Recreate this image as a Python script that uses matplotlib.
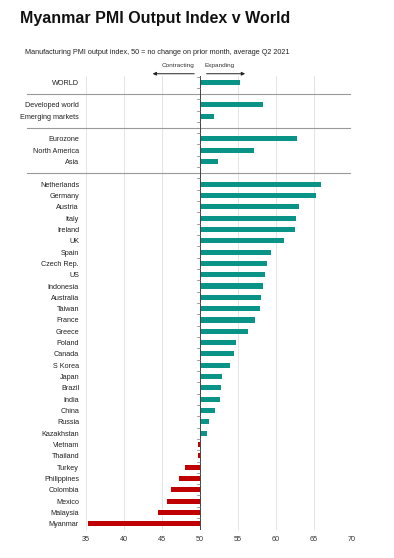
import matplotlib
matplotlib.use("Agg")
import matplotlib.pyplot as plt
import matplotlib.transforms as mtransforms

plt.rcParams['font.family'] = ['Liberation Sans', 'DejaVu Sans']

groups = [
    ["WORLD"],
    ["Developed world", "Emerging markets"],
    ["Eurozone", "North America", "Asia"],
    ["Netherlands", "Germany", "Austria", "Italy", "Ireland", "UK", "Spain",
     "Czech Rep.", "US", "Indonesia", "Australia", "Taiwan", "France", "Greece",
     "Poland", "Canada", "S Korea", "Japan", "Brazil", "India", "China", "Russia",
     "Kazakhstan", "Vietnam", "Thailand", "Turkey", "Philippines", "Colombia",
     "Mexico", "Malaysia", "Myanmar"],
]
group_values = [
    [55.2],
    [58.3, 51.9],
    [62.7, 57.1, 52.4],
    [65.9, 65.2, 63.0, 62.6, 62.5, 61.1, 59.4, 58.8, 58.5, 58.3, 58.0, 57.9,
     57.3, 56.3, 54.7, 54.5, 54.0, 52.9, 52.8, 52.6, 52.0, 51.2, 50.9, 49.7,
     49.7, 48.0, 47.3, 46.2, 45.7, 44.5, 35.2],
]
x_ticks = [35, 40, 45, 50, 55, 60, 65, 70]
baseline = 50

TEAL = "#0a9488"
RED = "#c00000"

fig = plt.figure(figsize=(3.94, 5.58), dpi=100)
ax = fig.add_axes([86/394, 1-530/558, 266/394, (530-76)/558])

labels, vals, pos, seps = [], [], [], []
p = 0
for gi, (g, v) in enumerate(zip(groups, group_values)):
    for name, val in zip(g, v):
        labels.append(name)
        vals.append(val)
        pos.append(p)
        p += 1
    if gi < len(groups) - 1:
        seps.append(p)
        p += 1

colors = [TEAL if v >= baseline else RED for v in vals]
ax.barh(pos, [v - baseline for v in vals], left=baseline, height=0.45,
        color=colors, zorder=3)

ax.set_xlim(35, 70)
ax.set_ylim(p - 1 + 0.55, -0.55)
ax.set_xticks(x_ticks)
ax.set_xticklabels([str(t) for t in x_ticks], fontsize=5.2, color="#333333")
ax.set_yticks(pos)
ax.set_yticklabels(labels, fontsize=5.2, color="#222222")
ax.tick_params(axis='both', length=0, pad=5)
ax.tick_params(axis='x', pad=4)
for s in ax.spines.values():
    s.set_visible(False)
ax.grid(axis='x', color="#e4e4e4", linewidth=0.7, zorder=0)

# zero line with small boundary ticks
ax.axvline(baseline, color="#444444", linewidth=0.7, zorder=4)
for b in range(0, p):
    ax.plot([baseline - 0.35, baseline], [b - 0.5, b - 0.5], color="#777777",
            linewidth=0.5, zorder=4)

# separators extending into label area
trans = mtransforms.blended_transform_factory(ax.transAxes, ax.transData)
for s in seps:
    ax.plot([-0.222, 0.992], [s, s], transform=trans, color="#999999",
            linewidth=0.8, clip_on=False, zorder=2)

# arrows
ax.annotate("", xy=(43.4, -0.75), xytext=(49.6, -0.75),
            arrowprops=dict(arrowstyle="-|>", color="#222222", lw=0.7,
                            mutation_scale=5), annotation_clip=False)
ax.annotate("", xy=(56.3, -0.75), xytext=(50.5, -0.75),
            arrowprops=dict(arrowstyle="-|>", color="#222222", lw=0.7,
                            mutation_scale=5), annotation_clip=False)
ax.text(47.1, -1.45, "Contracting", fontsize=4.6, ha="center", va="center",
        color="#333333", clip_on=False)
ax.text(52.6, -1.45, "Expanding", fontsize=4.6, ha="center", va="center",
        color="#333333", clip_on=False)

fig.text(20/394, 1-18/558, "Myanmar PMI Output Index v World", fontsize=11.5,
         fontweight="bold", ha="left", va="center", color="#111111")
fig.text(25/394, 1-52/558,
         "Manufacturing PMI output index, 50 = no change on prior month, average Q2 2021",
         fontsize=5.2, ha="left", va="center", color="#222222")

fig.savefig("out.png", dpi=100)
